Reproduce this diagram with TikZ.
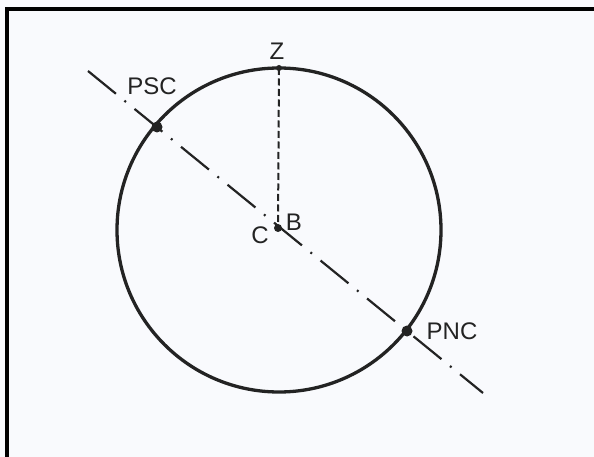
\documentclass[tikz,border=0pt]{standalone}
\usepackage{fontspec}
\setmainfont{Liberation Sans}
\definecolor{paper}{RGB}{249,250,253}
\definecolor{ink}{RGB}{35,35,35}
\definecolor{txt}{RGB}{35,35,35}
\begin{document}
\begin{tikzpicture}[x=1pt,y=-1pt,
  rim/.style={draw=ink, line width=3.3pt},
  axisline/.style={draw=ink, line width=2.2pt, dash pattern=on 36pt off 11pt on 2pt off 11pt},
  zline/.style={draw=ink, line width=2pt, dash pattern=on 7pt off 3.5pt},
  dot/.style={circle, fill=ink, inner sep=0pt, minimum size=#1},
  lbl/.style={font=\fontsize{24}{24}\selectfont, text=txt, inner sep=0pt}
]
\fill[paper] (0,0) rectangle (594,457);
\useasboundingbox (0,0) rectangle (594,457);
\draw[black, line width=4pt] (7,470) -- (7,9) -- (610,9);
% geometry
\coordinate (o) at (279,230);
\coordinate (zc) at (279,68);
\coordinate (bc) at (278,228);
\coordinate (pscc) at (157,127);
\coordinate (pncc) at (407,331);
\coordinate (ls) at (88,71);
\coordinate (le) at (483,393);
% lines
\draw[rim] (o) circle[radius=162];
\draw[axisline] (ls) -- (le);
\draw[zline] (zc) -- (bc);
% points
\node[dot=6pt] (z) at (zc) {};
\node[dot=8pt] (b) at (bc) {};
\node[dot=11pt] (psc) at (pscc) {};
\node[dot=11pt] (pnc) at (pncc) {};
% labels
\node[lbl] (zl) at (277,51) {Z};
\node[lbl] (pscl) at (152,86) {PSC};
\node[lbl] (bl) at (294,222) {B};
\node[lbl] (cl) at (260,235) {C};
\node[lbl] (pncl) at (452,331) {PNC};
\end{tikzpicture}
\end{document}
